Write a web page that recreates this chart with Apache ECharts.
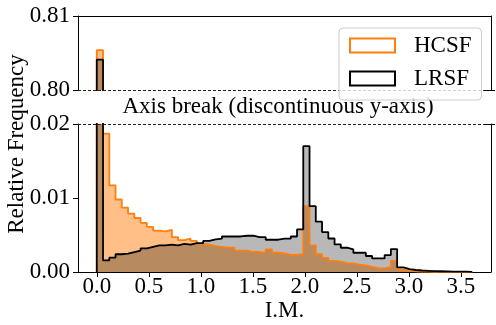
<!DOCTYPE html>
<html>
<head>
<meta charset="utf-8">
<script src="https://cdn.jsdelivr.net/npm/echarts@6/dist/echarts.min.js"></script>
<style>
  html, body { margin: 0; padding: 0; background: #fff; }
  #chart { width: 496px; height: 325px; }
</style>
</head>
<body>
<div id="chart"></div>
<script>
// 60 equal bins of I.M. from 0 to 3.61, relative frequency per bin
const binWidth = 3.61 / 60;
const hcsf = [
  0.8054, 0.0187, 0.0117, 0.0098, 0.0087, 0.0079, 0.0073, 0.00665, 0.0061, 0.0056,
  0.0055, 0.0057, 0.0047, 0.0043, 0.0045, 0.0042, 0.0038, 0.0037, 0.0035, 0.0034,
  0.0033, 0.0033, 0.0029, 0.0029, 0.0027, 0.0027, 0.0026, 0.00305, 0.0026, 0.0025,
  0.0023, 0.0023, 0.0024, 0.0089, 0.0036, 0.0024, 0.0019, 0.0015, 0.0014, 0.0012,
  0.00115, 0.00098, 0.0009, 0.0007, 0.00052, 0.0005, 0.0007, 0.0015, 0.0003, 0.00015,
  0.0001, 0.00006, 0.00004, 0.00002, 0.00001, 0.00001, 0, 0, 0, 0
];
const lrsf = [
  0.8041, 0.00157, 0.00193, 0.0024, 0.00247, 0.0027, 0.0029, 0.0032, 0.0034, 0.0036,
  0.0036, 0.0037, 0.0036, 0.0038, 0.0037, 0.0039, 0.0039, 0.0042, 0.0044, 0.0045,
  0.0048, 0.0048, 0.0048, 0.0049, 0.0049, 0.0047, 0.0047, 0.00436, 0.00436, 0.0045,
  0.0045, 0.0048, 0.00575, 0.0170, 0.0089, 0.0068, 0.0054, 0.00453, 0.00372, 0.00328,
  0.00305, 0.0026, 0.0026, 0.00216, 0.00184, 0.00184, 0.00229, 0.0031, 0.00062, 0.0004,
  0.00027, 0.0002, 0.00016, 0.00012, 0.0001, 0.00008, 0.00006, 0.00005, 0.00004, 0.00003
];
const xTicks = [0, 0.5, 1, 1.5, 2, 2.5, 3, 3.5];
const topTicks = [0.80, 0.81];
const bottomTicks = [0, 0.01, 0.02];

const FONT = "'Liberation Serif', 'Times New Roman', serif";
const ORANGE = '#ff7f0e';

// outline of a step histogram, starting and ending on the baseline
function stepPoints(values) {
  const n = values.length;
  const pts = [[0, 0]];
  values.forEach((v, i) => pts.push([i * binWidth, v]));
  pts.push([n * binWidth, values[n - 1]]);
  pts.push([n * binWidth, 0]);
  return pts;
}

function fillSeries(name, values, g, color) {
  return {
    name: name, type: 'line', step: 'end', data: stepPoints(values),
    xAxisIndex: g, yAxisIndex: g * 2, symbol: 'none', silent: true, clip: true,
    lineStyle: { width: 0 },
    areaStyle: { color: color, opacity: 1, origin: 'start' }
  };
}

function lineSeries(name, values, g, color) {
  return {
    name: name, type: 'line', step: 'end', data: stepPoints(values),
    xAxisIndex: g, yAxisIndex: g * 2, symbol: 'none', silent: true, clip: true,
    itemStyle: { color: color },
    lineStyle: { color: color, width: 1.8 }
  };
}

const xRange = { min: -0.1805, max: 3.7905 };
const labelStyle = { fontFamily: FONT, fontSize: 23, color: '#000' };

const series = [];
[0, 1].forEach(g => {
  series.push(fillSeries('hcsf-fill', hcsf, g, 'rgba(255,127,14,0.5)'));
  series.push(fillSeries('lrsf-fill', lrsf, g, 'rgba(0,0,0,0.28)'));
  series.push(lineSeries('HCSF', hcsf, g, ORANGE));
  series.push(lineSeries('LRSF', lrsf, g, '#000'));
});

function sideAxis(g, min, max) {
  return {
    type: 'value', gridIndex: g, position: 'right', min: min, max: max,
    axisLine: { show: true, onZero: false, lineStyle: { color: '#000', width: 1 } },
    axisTick: { show: false }, axisLabel: { show: false }, splitLine: { show: false }
  };
}

const option = {
  animation: false,
  backgroundColor: '#fff',
  grid: [
    { left: 78, right: 5, top: 16, height: 74 },
    { left: 78, right: 5, top: 124, height: 148 }
  ],
  xAxis: [
    {
      type: 'value', gridIndex: 0, position: 'top', ...xRange,
      axisLine: { show: true, onZero: false, lineStyle: { color: '#000', width: 1 } },
      axisTick: { show: false }, axisLabel: { show: false }, splitLine: { show: false }
    },
    {
      type: 'value', gridIndex: 1, position: 'bottom', ...xRange,
      name: 'I.M.', nameLocation: 'middle', nameGap: 27,
      nameTextStyle: labelStyle,
      axisLine: { show: true, onZero: false, lineStyle: { color: '#000', width: 1 } },
      axisTick: { show: true, length: 5, customValues: xTicks, lineStyle: { color: '#000' } },
      axisLabel: { ...labelStyle, margin: 3, customValues: xTicks, formatter: v => v.toFixed(1) },
      splitLine: { show: false }
    }
  ],
  yAxis: [
    {
      type: 'value', gridIndex: 0, position: 'left', min: 0.80, max: 0.81,
      axisLine: { show: true, onZero: false, lineStyle: { color: '#000', width: 1 } },
      axisTick: { show: true, length: 5, customValues: topTicks, lineStyle: { color: '#000' } },
      axisLabel: { ...labelStyle, margin: 8, customValues: topTicks, formatter: v => v.toFixed(2) },
      splitLine: { show: false }
    },
    sideAxis(0, 0, 1),
    {
      type: 'value', gridIndex: 1, position: 'left', min: 0, max: 0.02,
      axisLine: { show: true, onZero: false, lineStyle: { color: '#000', width: 1 } },
      axisTick: { show: true, length: 5, customValues: bottomTicks, lineStyle: { color: '#000' } },
      axisLabel: { ...labelStyle, margin: 8, customValues: bottomTicks, formatter: v => v.toFixed(2) },
      splitLine: { show: false }
    },
    sideAxis(1, 0, 1)
  ],
  legend: {
    orient: 'vertical', left: 339, top: 28, z: 10,
    padding: [6, 10, 10, 10], itemGap: 10, itemWidth: 45, itemHeight: 14,
    backgroundColor: 'rgba(255,255,255,0.8)', borderColor: '#cccccc', borderWidth: 1, borderRadius: 4,
    selectedMode: false,
    textStyle: { ...labelStyle, lineHeight: 23, padding: [0, 0, 0, 14] },
    data: [
      { name: 'HCSF', icon: 'rect', itemStyle: { color: '#fff', borderColor: ORANGE, borderWidth: 2 } },
      { name: 'LRSF', icon: 'rect', itemStyle: { color: '#fff', borderColor: '#000', borderWidth: 2 } }
    ]
  },
  graphic: [
    { type: 'line', z: 5, silent: true, shape: { x1: 78, y1: 90.5, x2: 484, y2: 90.5 },
      style: { stroke: '#222', lineWidth: 1, lineDash: [3, 2] } },
    { type: 'line', z: 5, silent: true, shape: { x1: 484, y1: 90.5, x2: 495, y2: 90.5 },
      style: { stroke: '#000', lineWidth: 1 } },
    { type: 'line', z: 5, silent: true, shape: { x1: 78, y1: 124.5, x2: 484, y2: 124.5 },
      style: { stroke: '#222', lineWidth: 1, lineDash: [3, 2] } },
    { type: 'line', z: 5, silent: true, shape: { x1: 484, y1: 124.5, x2: 495, y2: 124.5 },
      style: { stroke: '#000', lineWidth: 1 } },
    { type: 'text', z: 5, silent: true, x: 278, y: 106.5,
      style: { text: 'Axis break (discontinuous y-axis)', font: '23px ' + FONT, fill: '#000',
               align: 'center', verticalAlign: 'middle', textAlign: 'center', textVerticalAlign: 'middle' } },
    { type: 'text', z: 5, silent: true, x: 17, y: 144, rotation: Math.PI / 2,
      style: { text: 'Relative Frequency', font: '23px ' + FONT, fill: '#000',
               align: 'center', verticalAlign: 'middle', textAlign: 'center', textVerticalAlign: 'middle' } }
  ],
  series: series
};

const chart = echarts.init(document.getElementById('chart'), null, { renderer: 'canvas' });
chart.setOption(option);
</script>
</body>
</html>
